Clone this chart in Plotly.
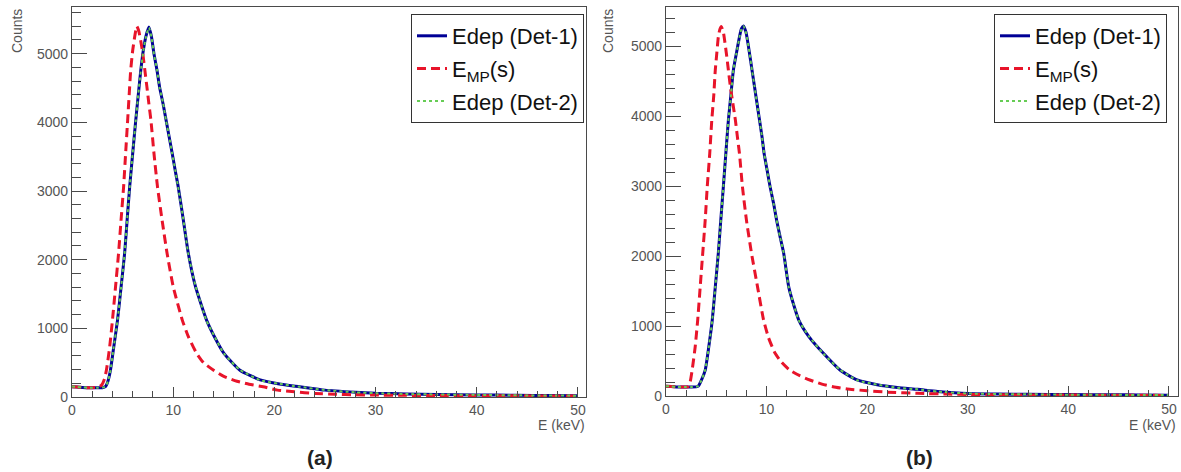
import plotly.graph_objects as go

# ---------------- data ----------------
# Panel (a)
A_EMP_E = [0, 0.5, 1, 1.5, 2, 2.5, 2.9, 3.2, 3.4, 3.7, 4.0, 4.3, 4.6, 4.85, 5.1, 5.3, 5.5, 5.65,
           5.8, 6.0, 6.2, 6.4, 6.6, 6.8, 7.0, 7.2, 7.4, 7.6, 7.8, 8.1, 8.45, 8.9, 9.4, 10.0, 10.9,
           11.5, 12.3, 13.0, 14.0, 15.0, 16.3, 17.5, 18.9, 20.3, 22, 24, 26, 28, 30, 33, 36, 40,
           44, 47, 50]
A_EMP_C = [150, 145, 140, 135, 135, 140, 170, 260, 390, 700, 1120, 1600, 2090, 2580, 3060, 3550,
           4030, 4400, 4760, 5050, 5250, 5400, 5330, 5180, 5000, 4760, 4520, 4270, 4030, 3550,
           3060, 2580, 2090, 1610, 1120, 880, 640, 500, 390, 300, 230, 185, 150, 100, 75, 52, 40,
           33, 28, 24, 21, 19, 17, 15, 13]

A_DET1_E = [0, 0.5, 1, 1.5, 2, 2.5, 3.0, 3.3, 3.55, 3.8, 4.1, 4.5, 4.85, 5.2, 5.45, 5.7, 6.0, 6.3,
            6.55, 6.8, 7.05, 7.3, 7.6, 7.85, 8.1, 8.4, 8.65, 9.0, 9.3, 9.6, 9.9, 10.2, 10.5, 11.0,
            11.5, 12.2, 13.3, 14.0, 15.0, 16.6, 18.6, 20.5, 22.5, 25, 28, 30, 33, 36, 40, 44, 47,
            50]
A_DET1_C = [150, 145, 140, 135, 135, 135, 135, 150, 230, 390, 700, 1120, 1600, 2090, 2580, 3060,
            3550, 4030, 4400, 4760, 5050, 5250, 5390, 5250, 5000, 4760, 4520, 4270, 4030, 3790,
            3550, 3300, 3060, 2580, 2090, 1610, 1120, 900, 640, 390, 250, 190, 150, 100, 70, 55,
            45, 38, 30, 25, 22, 20]
A_DET2_C = [152, 146, 141, 136, 134, 136, 137, 152, 228, 385, 705, 1115, 1590, 2095, 2570, 3050,
            3560, 4020, 4410, 4750, 5040, 5240, 5380, 5245, 4990, 4770, 4510, 4280, 4020, 3800,
            3540, 3310, 3050, 2590, 2080, 1620, 1110, 905, 635, 395, 245, 192, 148, 102, 68, 56,
            44, 37, 31, 24, 23, 19]

# Panel (b)
B_EMP_E = [0, 0.5, 1, 1.5, 2.0, 2.2, 2.4, 2.6, 2.9, 3.15, 3.4, 3.65, 3.9, 4.1, 4.35, 4.55, 4.75,
           4.9, 5.05, 5.2, 5.35, 5.5, 5.7, 6.0, 6.2, 6.4, 6.65, 6.9, 7.1, 7.3, 7.6, 8.0, 8.5, 9.1,
           9.7, 10.2, 10.85, 11.5, 12.3, 13.3, 14.3, 15.5, 16.6, 18, 20, 22, 25, 28, 30, 33, 36,
           40, 44, 47, 50]
B_EMP_C = [140, 135, 130, 128, 130, 135, 200, 371, 700, 1086, 1560, 2040, 2520, 2990, 3470, 3940,
           4300, 4660, 4900, 5130, 5240, 5280, 5200, 4900, 4660, 4420, 4180, 3940, 3700, 3470,
           2990, 2510, 2040, 1560, 1086, 830, 610, 480, 371, 290, 229, 170, 133, 100, 75, 55, 38,
           28, 22, 18, 15, 13, 12, 10, 8]

B_DET1_E = [0, 0.5, 1, 1.5, 2, 2.5, 3.0, 3.2, 3.5, 3.9, 4.25, 4.6, 4.9, 5.2, 5.45, 5.7, 5.95, 6.2,
            6.45, 6.7, 7.0, 7.3, 7.5, 7.7, 7.95, 8.3, 8.55, 8.8, 9.05, 9.3, 9.55, 9.75, 10.05,
            10.35, 10.7, 11.0, 11.35, 11.7, 12.2, 12.7, 13.2, 14.2, 15.65, 17.3, 19.0, 21, 23, 25,
            27, 30, 33, 36, 40, 44, 47, 50]
B_DET1_C = [140, 135, 130, 128, 128, 128, 130, 140, 220, 371, 700, 1086, 1560, 2040, 2520, 2990,
            3470, 3940, 4300, 4660, 4900, 5130, 5250, 5290, 5200, 4900, 4660, 4420, 4180, 3940,
            3700, 3470, 3230, 2990, 2750, 2510, 2270, 2040, 1560, 1300, 1086, 850, 610, 371, 229,
            160, 120, 95, 65, 35, 28, 24, 20, 18, 15, 12]
B_DET2_C = [141, 136, 131, 127, 129, 127, 131, 142, 218, 375, 695, 1090, 1555, 2045, 2515, 2995,
            3465, 3945, 4290, 4665, 4895, 5125, 5245, 5285, 5195, 4905, 4655, 4425, 4175, 3945,
            3695, 3475, 3225, 2995, 2745, 2515, 2265, 2045, 1555, 1305, 1080, 855, 605, 375, 225,
            162, 118, 96, 63, 36, 27, 25, 19, 18, 14, 13]

LABELS = ["Edep (Det-1)", "E<sub>MP</sub>(s)", "Edep (Det-2)"]
X_TICKS = [0, 10, 20, 30, 40, 50]
Y_TICKS = [0, 1000, 2000, 3000, 4000, 5000]

W, H = 1181, 472
FONT = "Liberation Sans, Arial, Helvetica, sans-serif"
NAVY = "#000096"
RED = "#e8142a"
GREEN = "#66cc55"
FRAME = "#4a4a4a"
TICKC = "#555555"

fig = go.Figure()

panels = [
    ("x", "y", "legend", A_DET1_E, A_DET1_C, A_EMP_E, A_EMP_C, A_DET2_C),
    ("x2", "y2", "legend2", B_DET1_E, B_DET1_C, B_EMP_E, B_EMP_C, B_DET2_C),
]
for xa, ya, leg, d1e, d1c, eme, emc, d2c in panels:
    fig.add_trace(go.Scatter(x=d1e, y=d1c, mode="lines", name=LABELS[0], xaxis=xa, yaxis=ya,
                             legend=leg, legendgroup=leg + "1",
                             line=dict(color=NAVY, width=3, shape="spline", smoothing=0.5)))
    fig.add_trace(go.Scatter(x=eme, y=emc, mode="lines", name=LABELS[1], xaxis=xa, yaxis=ya,
                             legend=leg, legendgroup=leg + "2",
                             line=dict(color=RED, width=3, dash="9px,5px", shape="spline",
                                       smoothing=0.5)))
    fig.add_trace(go.Scatter(x=d1e, y=d2c, mode="lines", name=LABELS[2], xaxis=xa, yaxis=ya,
                             legend=leg, legendgroup=leg + "3",
                             line=dict(color=GREEN, width=2, dash="dot", shape="spline",
                                       smoothing=0.5)))

def xax(domain, rng):
    return dict(domain=domain, range=rng, automargin=False, showgrid=False, zeroline=False,
                showline=True, linecolor=FRAME, linewidth=1.3, mirror=True,
                ticks="inside", ticklen=10, tickwidth=1, tickcolor=FRAME,
                tickvals=X_TICKS, tickfont=dict(family=FONT, size=14, color=TICKC),
                minor=dict(dtick=2, tick0=0, ticks="inside", ticklen=6, tickcolor=FRAME,
                           showgrid=False))

def yax(domain, rng):
    return dict(domain=domain, range=rng, automargin=False, showgrid=False, zeroline=False,
                showline=True, linecolor=FRAME, linewidth=1.3, mirror=True,
                ticks="inside", ticklen=15, tickwidth=1, tickcolor=FRAME,
                tickvals=Y_TICKS, tickfont=dict(family=FONT, size=14, color=TICKC),
                minor=dict(dtick=200, tick0=0, ticks="inside", ticklen=9, tickcolor=FRAME,
                           showgrid=False))

xa1 = xax([72 / W, 586 / W], [0, 50.8]); xa1["anchor"] = "y"
xa2 = xax([666 / W, 1178 / W], [0, 50.9]); xa2["anchor"] = "y2"
ya1 = yax([1 - 397 / H, 1 - 7 / H], [0, 5680]); ya1["anchor"] = "x"
ya2 = yax([1 - 396 / H, 1 - 7 / H], [0, 5560]); ya2["anchor"] = "x2"

legcommon = dict(font=dict(family=FONT, size=22, color="#111111"), bgcolor="white",
                 bordercolor="#333333", borderwidth=1, xanchor="right", yanchor="top",
                 tracegroupgap=1, itemwidth=30)

fig.update_layout(
    width=W, height=H, margin=dict(l=0, r=0, t=0, b=0, autoexpand=False),
    paper_bgcolor="white", plot_bgcolor="white",
    xaxis=xa1, yaxis=ya1, xaxis2=xa2, yaxis2=ya2,
    legend=dict(x=584 / W, y=1 - 14 / H, **legcommon),
    legend2=dict(x=1167 / W, y=1 - 14 / H, **legcommon),
    showlegend=True,
)

annots = [
    dict(text="Counts", x=17 / W, y=1 - 31 / H, textangle=-90),
    dict(text="Counts", x=608 / W, y=1 - 31 / H, textangle=-90),
]
for a in annots:
    fig.add_annotation(xref="paper", yref="paper", showarrow=False, xanchor="center",
                       yanchor="middle", font=dict(family=FONT, size=14, color=TICKC), **a)
for xr in (587, 1178):
    fig.add_annotation(text="E (keV)", xref="paper", yref="paper", x=xr / W, y=1 - 425 / H,
                       xanchor="right", yanchor="middle", showarrow=False,
                       font=dict(family=FONT, size=14, color=TICKC))
for lab, xc in (("(a)", 320), ("(b)", 919)):
    fig.add_annotation(text="<b>" + lab + "</b>", xref="paper", yref="paper", x=xc / W,
                       y=1 - 457 / H, xanchor="center", yanchor="middle", showarrow=False,
                       font=dict(family="Liberation Sans, Arial, sans-serif", size=21,
                                 color="#222222"))

fig.write_html(
    "out.html",
    config={"displayModeBar": False},
    post_script="document.body.style.margin='0';document.body.style.overflow='hidden';",
)
